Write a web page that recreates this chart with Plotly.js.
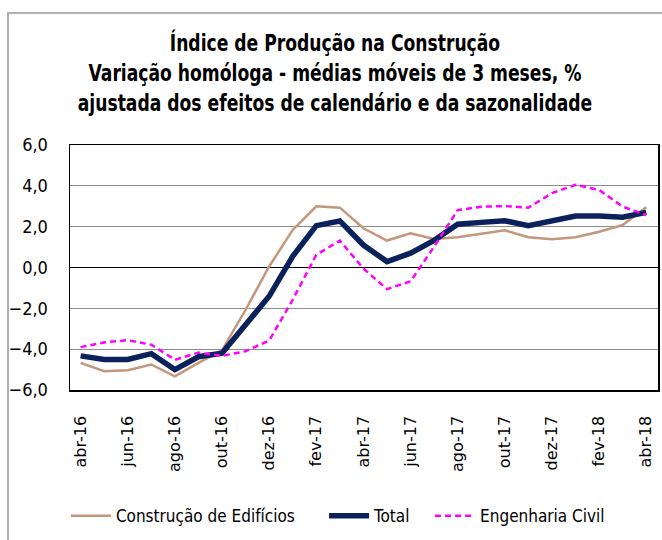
<!DOCTYPE html>
<html>
<head>
<meta charset="utf-8">
<script src="https://cdn.plot.ly/plotly-3.0.1.min.js"></script>
<style>
html,body{margin:0;padding:0;background:#fff;}
#wrap{position:relative;width:662px;height:540px;}
#chart{position:absolute;left:0;top:0;width:662px;height:540px;}
#frame{position:absolute;left:7px;top:12px;width:660px;height:540px;border-left:2px solid #b0b0b0;border-top:2px solid #b0b0b0;pointer-events:none;}
</style>
</head>
<body>
<div id="wrap"><div id="chart"></div><div id="frame"></div></div>
<script>
const months = ["abr-16","mai-16","jun-16","jul-16","ago-16","set-16","out-16","nov-16","dez-16","jan-17","fev-17","mar-17","abr-17","mai-17","jun-17","jul-17","ago-17","set-17","out-17","nov-17","dez-17","jan-18","fev-18","mar-18","abr-18"];
const tickLabels = ["abr-16","jun-16","ago-16","out-16","dez-16","fev-17","abr-17","jun-17","ago-17","out-17","dez-17","fev-18","abr-18"];
const edificios = [-4.67,-5.08,-5.03,-4.75,-5.33,-4.67,-4.06,-2.07,0.05,1.84,3.0,2.93,1.92,1.32,1.67,1.40,1.48,1.64,1.82,1.48,1.38,1.48,1.75,2.08,2.95];
const total = [-4.33,-4.5,-4.5,-4.22,-5.0,-4.37,-4.2,-2.8,-1.41,0.55,2.05,2.28,1.1,0.29,0.7,1.33,2.12,2.21,2.29,2.05,2.28,2.52,2.52,2.46,2.70];
const engenharia = [-3.9,-3.67,-3.56,-3.78,-4.52,-4.17,-4.33,-4.1,-3.58,-1.58,0.62,1.32,-0.05,-1.06,-0.68,1.02,2.81,2.98,3.01,2.93,3.64,4.05,3.80,2.98,2.57];
const yTicks = [-6,-4,-2,0,2,4,6];

const narrow = "DejaVu Sans Condensed, Roboto, sans-serif";
const nb = "\u00a0";
const traces = [
  {x: months, y: edificios, type: "scatter", mode: "lines", name: "Construção de Edifícios" + nb.repeat(5),
   line: {color: "#C4967A", width: 2.5}},
  {x: months, y: total, type: "scatter", mode: "lines", name: "Total" + nb.repeat(3),
   line: {color: "#0A215C", width: 5.5}},
  {x: months, y: engenharia, type: "scatter", mode: "lines", name: "Engenharia Civil",
   line: {color: "#FF00FF", width: 2.5, dash: "6px,4px"}}
];
const layout = {
  width: 662, height: 540,
  margin: {l: 70, r: 4, t: 145, b: 150},
  paper_bgcolor: "#fff", plot_bgcolor: "#fff",
  separators: ",.",
  showlegend: true,
  title: {
    text: "<b>Índice de Produção na Construção<br>Variação homóloga - médias móveis de 3 meses, %<br>ajustada dos efeitos de calendário e da sazonalidade</b>",
    font: {family: narrow, size: 23, color: "#000"},
    x: 0.506, xanchor: "center", y: 0.905, yanchor: "top"
  },
  xaxis: {
    type: "category",
    range: [-0.45, 24.5],
    tickmode: "array", tickvals: tickLabels, ticktext: tickLabels,
    tickangle: -90,
    tickfont: {family: "DejaVu Sans, Verdana, sans-serif", size: 16, color: "#000"},
    ticks: "", ticklabelstandoff: 18,
    showgrid: false, zeroline: false,
    showline: true, linecolor: "#000", linewidth: 1.5, mirror: true
  },
  yaxis: {
    range: [-6, 6],
    tickmode: "array", tickvals: yTicks,
    tickformat: ".1f",
    tickfont: {family: narrow, size: 18, color: "#000"},
    ticks: "", ticklabelstandoff: 17,
    showgrid: true, gridcolor: "#8c8c8c", gridwidth: 1,
    zeroline: true, zerolinecolor: "#000", zerolinewidth: 1.5,
    showline: true, linecolor: "#000", linewidth: 1.5, mirror: true
  },
  legend: {
    orientation: "h", x: -0.007, xanchor: "left", y: -0.515, yanchor: "middle",
    font: {family: narrow, size: 17, color: "#000"},
    itemwidth: 40, tracegroupgap: 0, bgcolor: "rgba(0,0,0,0)"
  }
};
Plotly.newPlot("chart", traces, layout, {displayModeBar: false, staticPlot: true}).then(function (gd) {
  // condense the title horizontally, like the squeezed title of the original
  const t = gd.querySelector(".gtitle");
  if (t) {
    const cx = parseFloat(t.getAttribute("x")) || 335;
    t.setAttribute("transform", "translate(" + cx + ",0) scale(0.83,1) translate(" + (-cx) + ",0)");
  }
});
</script>
</body>
</html>
